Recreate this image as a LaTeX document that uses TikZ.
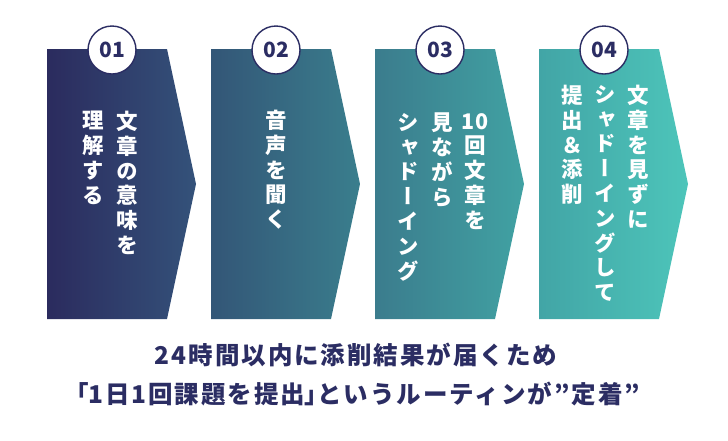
\documentclass[tikz,border=0pt]{standalone}
\usepackage{fontspec}
\newfontfamily\jp{Noto Sans CJK JP}
\newfontfamily\jpb[LetterSpace=8]{Noto Sans CJK JP}
\newfontfamily\jpp[RawFeature=+palt,LetterSpace=8]{Noto Sans CJK JP}
\newfontfamily\jpv[RawFeature=+vert]{Noto Sans CJK JP}
\definecolor{navy}{HTML}{2B2D63}
\definecolor{cA}{HTML}{2B2B5E}
\definecolor{cB}{HTML}{34527A}
\definecolor{cC}{HTML}{335677}
\definecolor{cD}{HTML}{3A7E8D}
\definecolor{cE}{HTML}{3B7C8D}
\definecolor{cF}{HTML}{41A2A3}
\definecolor{cG}{HTML}{42A5A6}
\definecolor{cH}{HTML}{4DC5BA}
\tikzset{
  vcol/.style={text=white, inner sep=0pt, align=center, anchor=north,
    font=\jpv\bfseries\fontsize{21.5}{24.8}\selectfont},
  numcirc/.style={circle, draw=navy, line width=1.4pt, fill=white,
    minimum size=48pt, inner sep=0pt, text=navy,
    font=\jp\bfseries\fontsize{21}{21}\selectfont},
  bottomtxt/.style={text=navy, inner sep=0pt,
    font=\jpb\bfseries\fontsize{24.5}{24.5}\selectfont}
}
\newcommand{\chev}[3]{%
  \shade[left color=#2, right color=#3] (#1,49) -- (#1+120,49) -- (#1+149,184)
    -- (#1+120,319) -- (#1,319) -- cycle;}
\newcommand{\hb}[1]{{\jpp\bfseries #1}}
\begin{document}
\begin{tikzpicture}[x=1pt,y=-1pt]
\useasboundingbox (0,0) rectangle (728,440);
\chev{47}{cA}{cB}
\chev{211}{cC}{cD}
\chev{375}{cE}{cF}
\chev{539}{cG}{cH}
\node[numcirc] (n1) at (112,50) {01};
\node[numcirc] (n2) at (276,50) {02};
\node[numcirc] (n3) at (440,50) {03};
\node[numcirc] (n4) at (604,50) {04};
% chevron 1
\node[vcol] (t1a) at (127,111) {文\\章\\の\\意\\味\\を};
\node[vcol] (t1b) at (93,111) {理\\解\\す\\る};
% chevron 2
\node[vcol] (t2a) at (276,110) {音\\声\\を\\聞\\く};
% chevron 3
\node[vcol] (t3a) at (475,113) {10\\回\\文\\章\\を};
\node[vcol] (t3b) at (442,113) {見\\な\\が\\ら};
\node[vcol] (t3c) at (408,113) {シ\\ャ\\ド\\ー\\イ\\ン\\グ};
% chevron 4
\node[vcol] (t4a) at (638,85) {文\\章\\を\\見\\ず\\に};
\node[vcol] (t4b) at (605,85) {シ\\ャ\\ド\\ー\\イ\\ン\\グ\\し\\て};
\node[vcol] (t4c) at (572,85) {提\\出\\＆\\添\\削};
% bottom text
\node[bottomtxt] (b1) at (356,355) {24時間以内に添削結果が届くため};
\node[bottomtxt] (b2) at (358,394) {\hb{「}1日1回課題を提出\hb{」}というルーティンが”定着”};
\end{tikzpicture}
\end{document}
